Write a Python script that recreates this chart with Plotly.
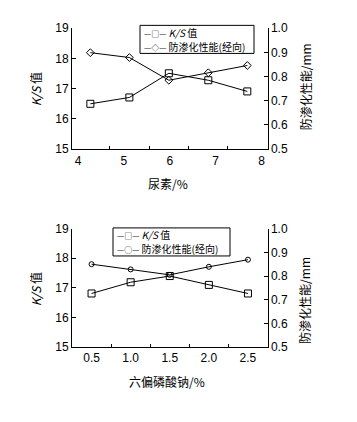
import plotly.graph_objects as go

# ---- data ----
urea_x = [4.27, 5.12, 5.98, 6.84, 7.69]
urea_ks = [16.5, 16.71, 17.51, 17.28, 16.91]
urea_anti = [0.899, 0.879, 0.785, 0.816, 0.846]
urea_ticks = [4, 5, 6, 7, 8]

shmp_x = [0.5, 1.0, 1.5, 2.0, 2.5]
shmp_ks = [16.81, 17.19, 17.40, 17.10, 16.81]
shmp_anti = [0.850, 0.828, 0.805, 0.839, 0.869]

ks_name = "<i>K/S</i> 值"
anti_name = "防渗化性能(经向)"
left_title = "<i>K/S</i> 值"
right_title = "防渗化性能/mm"
top_xtitle = "尿素/%"
bot_xtitle = "六偏磷酸钠/%"

FONT = "Liberation Sans, Arial, Noto Sans CJK SC"
CJK = "Noto Sans CJK SC, Liberation Sans"

W, H = 357, 422

def mids(v):
    return [(a + b) / 2 for a, b in zip(v[:-1], v[1:])]

fig = go.Figure()
line = dict(color="black", width=1)

fig.add_trace(go.Scatter(x=urea_x, y=urea_ks, name=ks_name, mode="lines+markers",
                         line=line, marker=dict(symbol="square-open", size=7, color="black", line=dict(width=1)),
                         xaxis="x", yaxis="y", showlegend=False))
fig.add_trace(go.Scatter(x=urea_x, y=urea_anti, name=anti_name, mode="lines+markers",
                         line=line, marker=dict(symbol="diamond-open", size=6, color="black", line=dict(width=1)),
                         xaxis="x", yaxis="y2", showlegend=False))
fig.add_trace(go.Scatter(x=shmp_x, y=shmp_ks, name=ks_name, mode="lines+markers",
                         line=line, marker=dict(symbol="square-open", size=7, color="black", line=dict(width=1)),
                         xaxis="x2", yaxis="y3", showlegend=False))
fig.add_trace(go.Scatter(x=shmp_x, y=shmp_anti, name=anti_name, mode="lines+markers",
                         line=line, marker=dict(symbol="circle-open", size=5, color="black", line=dict(width=1)),
                         xaxis="x2", yaxis="y4", showlegend=False))

def px_x(a, b):
    return [a / W, b / W]

def px_y(top, bot):
    return [1 - bot / H, 1 - top / H]

tickfont = dict(family=FONT, size=12, color="black")
axcommon = dict(showline=True, linecolor="black", linewidth=1, showgrid=False, zeroline=False,
                tickfont=tickfont, ticks="inside", ticklen=4, tickcolor="black", fixedrange=True)

top_dom_y = px_y(22, 147)
bot_dom_y = px_y(229.3, 351.7)
dom_x = px_x(72, 267.5)

fig.update_layout(
    width=W, height=H,
    margin=dict(l=0, r=0, t=0, b=0),
    paper_bgcolor="white", plot_bgcolor="white",
    showlegend=False,
    xaxis=dict(axcommon, domain=dom_x, anchor="y", range=[3.87, 8.13],
               tickmode="array", tickvals=urea_ticks, ticks="",
               minor=dict(tickmode="array", tickvals=mids(urea_x), ticks="inside", ticklen=3, tickcolor="black", showgrid=False)),
    yaxis=dict(axcommon, domain=top_dom_y, anchor="x", range=[15, 19], dtick=1),
    yaxis2=dict(axcommon, domain=top_dom_y, anchor="x", overlaying="y", side="right",
                range=[0.5, 1.0], dtick=0.1, tickformat=".1f"),
    xaxis2=dict(axcommon, domain=dom_x, anchor="y3", range=[0.25, 2.75],
                tickmode="array", tickvals=shmp_x, tickformat=".1f", ticks="",
                minor=dict(tickmode="array", tickvals=mids(shmp_x), ticks="inside", ticklen=3, tickcolor="black", showgrid=False)),
    yaxis3=dict(axcommon, domain=bot_dom_y, anchor="x2", range=[15, 19], dtick=1),
    yaxis4=dict(axcommon, domain=bot_dom_y, anchor="x2", overlaying="y3", side="right",
                range=[0.5, 1.0], dtick=0.1, tickformat=".1f"),
)

def ann(text, x, y, angle=0, size=12, xanchor="center"):
    fig.add_annotation(text=text, x=x / W, y=1 - y / H, xref="paper", yref="paper",
                       showarrow=False, textangle=angle, xanchor=xanchor, yanchor="middle",
                       font=dict(family=CJK, size=size, color="black"))

ann(left_title, 35, 85, -90)
ann(right_title, 305, 83, -90)
ann(top_xtitle, 168, 183)
ann(left_title, 35, 292, -90)
ann(right_title, 305, 304, -90)
ann(bot_xtitle, 167, 387)

# legend boxes (frame + one text line per series, symbol glyphs as text)
def sym(g):
    return '<span style="font-size:8px">—' + g + '—</span> '

def legend_box(x0, x1, y0, y1, second_glyph):
    fig.add_shape(type="rect", xref="paper", yref="paper",
                  x0=x0 / W, x1=x1 / W, y0=1 - y1 / H, y1=1 - y0 / H,
                  line=dict(color="black", width=1), fillcolor="white", layer="above")
    gap = (y1 - y0) / 2
    ann(sym("□") + ks_name, x0 + 2, y0 + gap * 0.5, size=10, xanchor="left")
    ann(sym(second_glyph) + anti_name, x0 + 2, y0 + gap * 1.5, size=10, xanchor="left")

legend_box(140, 254, 19, 48, "◇")
legend_box(113, 230, 228.5, 257.5, "○")

fig.write_html("out.html", config={"displayModeBar": False},
               post_script="document.body.style.margin='0';")
